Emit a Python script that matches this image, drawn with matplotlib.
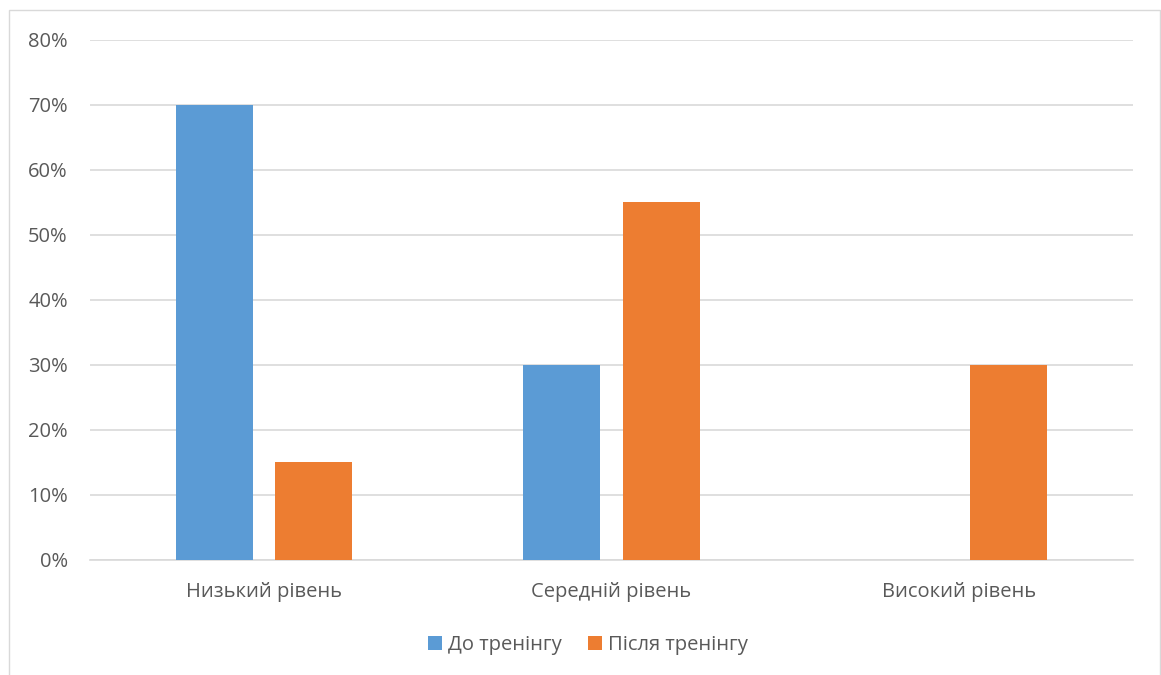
import numpy as np
import matplotlib.pyplot as plt
from matplotlib.patches import Rectangle
from matplotlib.ticker import FuncFormatter

categories = ['Низький рівень', 'Середній рівень', 'Високий рівень']
before = [70, 30, 0]
after = [15, 55, 30]
series_names = ['До тренінгу', 'Після тренінгу']
yticks = [0, 10, 20, 30, 40, 50, 60, 70, 80]

blue = '#5B9BD5'
orange = '#ED7D31'
text_col = '#595959'
fs = 14.5

plt.rcParams['font.family'] = ['Open Sans', 'DejaVu Sans']

fig = plt.figure(figsize=(11.61, 6.75), dpi=100)
ax = fig.add_axes([90/1161, 115.5/675, (1133-90)/1161, (559.5-39.5)/675])

x = np.arange(len(categories))
w = 0.2215
off = 0.1424
ax.bar(x - off, before, w, color=blue, label=series_names[0], zorder=3)
ax.bar(x + off, after, w, color=orange, label=series_names[1], zorder=3)

ax.set_xlim(-0.5, len(categories) - 0.5)
ax.set_ylim(0, 80)
ax.set_yticks(yticks)
ax.yaxis.set_major_formatter(FuncFormatter(lambda v, p: '{:.0f}%'.format(v)))
ax.set_xticks(x)
ax.set_xticklabels(categories)
ax.grid(axis='y', color='#D9D9D9', linewidth=1.2, zorder=0)
ax.tick_params(axis='both', length=0, labelsize=fs, labelcolor=text_col)
ax.tick_params(axis='y', pad=16)
ax.tick_params(axis='x', pad=16.5)
for s in ['top', 'right', 'left']:
    ax.spines[s].set_visible(False)
ax.spines['bottom'].set_color('#D9D9D9')
ax.spines['bottom'].set_linewidth(1.2)

leg = fig.legend(loc='center', bbox_to_anchor=(588/1161, 1 - 645/675), ncol=2,
                 frameon=False, fontsize=fs, handlelength=0.7, handleheight=0.7,
                 handletextpad=0.3, columnspacing=1.3)
for t in leg.get_texts():
    t.set_color(text_col)

# outer chart frame
fig.patches.append(Rectangle((9/1161, -0.1), (1160-9)/1161, 1.1 - 10.5/675,
                             transform=fig.transFigure, fill=False,
                             edgecolor='#D9D9D9', linewidth=1.0))

fig.savefig('out.png', dpi=100, facecolor='white')
